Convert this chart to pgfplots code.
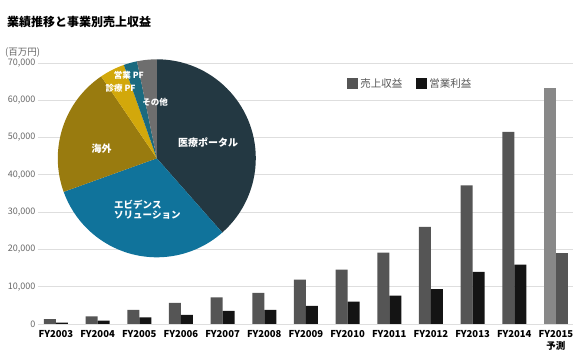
\documentclass[border=0pt]{standalone}
\usepackage{pgfplots}
\pgfplotsset{compat=1.18}
\usepackage{fontspec}
\setmainfont{Noto Sans CJK JP}
\definecolor{barA}{HTML}{555555}
\definecolor{barB}{HTML}{141414}
\definecolor{barC}{HTML}{888888}
\definecolor{gridc}{HTML}{DEDEDE}
\definecolor{tickc}{HTML}{666666}
\definecolor{pPortal}{HTML}{233842}
\definecolor{pEvid}{HTML}{10739B}
\definecolor{pOlive}{HTML}{997B0F}
\definecolor{pYellow}{HTML}{D2A80B}
\definecolor{pTeal}{HTML}{1A6A7F}
\definecolor{pGray}{HTML}{6E6E6E}
\begin{document}
\begin{tikzpicture}
\path (0pt,0pt) rectangle (579pt,356pt);
\node[anchor=west,font=\bfseries\fontsize{12}{14}\selectfont,text=black,inner sep=0pt] at (7pt,334pt) {業績推移と事業別売上収益};
\node[anchor=west,font=\fontsize{9.5}{11}\selectfont,text=tickc,inner sep=0pt] at (5pt,303pt) {(百万円)};
\begin{axis}[
  at={(38pt,32pt)}, anchor=south west,
  scale only axis, width=535pt, height=261pt,
  xmin=-0.43, xmax=12.41, ymin=0, ymax=70000,
  ytick={0,10000,...,70000},
  scaled y ticks=false,
  /pgf/number format/assume math mode=true,
  /pgf/number format/1000 sep={,},
  ymajorgrids, grid style={gridc, line width=0.8pt},
  axis line style={draw=none},
  tick style={draw=none},
  yticklabel style={text=tickc, font=\fontsize{9}{10}\selectfont, xshift=1pt},
  xtick={0,...,12},
  xticklabels={FY2003,FY2004,FY2005,FY2006,FY2007,FY2008,FY2009,FY2010,FY2011,FY2012,FY2013,FY2014,{FY2015\\予測}},
  xticklabel style={font=\bfseries\fontsize{9.5}{12}\selectfont, text=black, align=center, yshift=-2.5pt},
  legend style={at={(0.578,0.921)}, anchor=west, draw=none, fill=none, inner sep=0pt,
    font=\fontsize{10.5}{12}\selectfont, text=barA, legend columns=2,
    /tikz/every even column/.append style={column sep=12pt}},
  legend cell align=left,
]
\addplot[ybar, bar width=12pt, bar shift=-6pt, fill=barA, draw=none,
  legend image code/.code={\fill[barA] (0pt,-5.5pt) rectangle (11pt,5.5pt);}]
  coordinates {(0,1340) (1,2060) (2,3760) (3,5650) (4,7170) (5,8330) (6,11900) (7,14600) (8,19170) (9,26070) (10,37180) (11,51500)};
\addlegendentry{売上収益}
\addplot[ybar, bar width=12pt, bar shift=6pt, fill=barB, draw=none,
  legend image code/.code={\fill[barB] (0pt,-5.5pt) rectangle (11pt,5.5pt);}]
  coordinates {(0,350) (1,900) (2,1800) (3,2420) (4,3490) (5,3760) (6,4840) (7,6000) (8,7600) (9,9320) (10,13980) (11,15940)};
\addlegendentry{営業利益}
\addplot[ybar, bar width=12pt, bar shift=-6pt, fill=barC, draw=none, forget plot]
  coordinates {(12,63300)};
\addplot[ybar, bar width=12pt, bar shift=6pt, fill=barA, draw=none, forget plot]
  coordinates {(12,18980)};
\end{axis}
% pie chart of revenue share by segment (percent)
\begin{scope}[shift={(156.8pt,197.7pt)}]
\foreach \v/\c [remember=\e as \s (initially 90)] in {38.5/pPortal,31.0/pEvid,21.0/pOlive,4.1/pYellow,2.2/pTeal,3.2/pGray}{
  \pgfmathsetmacro{\e}{\s-3.6*\v}
  \fill[\c] (0pt,0pt) -- (\s:99pt) arc[start angle=\s, end angle=\e, radius=99pt] -- cycle;
}
\end{scope}
\begin{scope}[every node/.style={text=white, inner sep=0pt, font=\bfseries}]
\node[font=\bfseries\fontsize{10}{12}\selectfont] at (208pt,213.3pt) {医療ポータル};
\node[anchor=west, align=left, font=\bfseries\fontsize{9.5}{10}\selectfont] at (114pt,146.3pt) {エビデンス\\ソリューション};
\node[font=\bfseries\fontsize{10}{12}\selectfont] at (101.7pt,207.7pt) {海外};
\node[font=\bfseries\fontsize{8.5}{10}\selectfont] at (120.6pt,267.5pt) {診療 PF};
\node[font=\bfseries\fontsize{8.5}{10}\selectfont] at (128.8pt,280.5pt) {営業 PF};
\node[font=\bfseries\fontsize{8.5}{10}\selectfont] at (155pt,253.7pt) {その他};
\end{scope}
\end{tikzpicture}
\end{document}
